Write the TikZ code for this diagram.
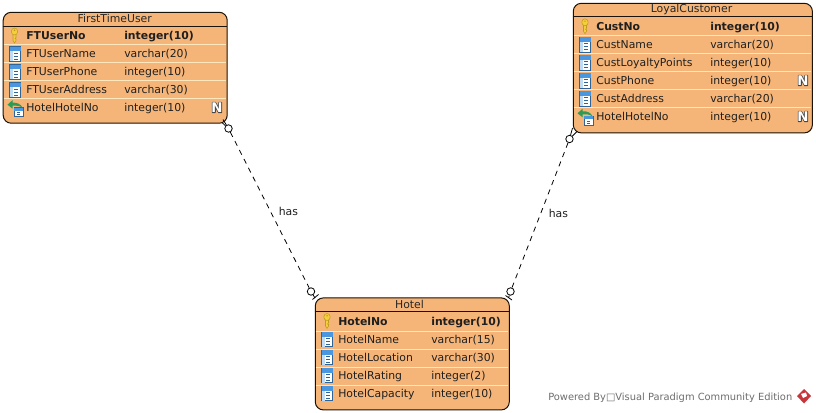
\documentclass[tikz,border=0pt]{standalone}
\usepackage{fontspec}
\setmainfont{DejaVu Sans}
\definecolor{erfill}{HTML}{F6B578}
\definecolor{ersep}{HTML}{FFE8BE}
\definecolor{erline}{HTML}{1A1208}
\definecolor{keyfill}{HTML}{F4CF3C}
\definecolor{keyedge}{HTML}{C09A20}
\definecolor{colblue}{HTML}{4A97E0}
\definecolor{coldark}{HTML}{2F6496}
\definecolor{fkgreen}{HTML}{2E9A56}
\definecolor{footgray}{HTML}{6E6E6E}
\definecolor{logored}{HTML}{C8353A}
\tikzset{
  x=0.75pt,y=-0.75pt,
  erbox/.style={draw=erline,fill=erfill,line width=0.75pt,rounded corners=6pt,anchor=north west,inner sep=0pt},
  ertext/.style={anchor=base west,inner sep=0pt,font=\fontsize{8.15pt}{10pt}\selectfont,text=black!88},
  ertitle/.style={anchor=base,inner sep=0pt,font=\fontsize{8.15pt}{10pt}\selectfont,text=black!85},
  erbold/.style={ertext,font=\fontsize{8.15pt}{10pt}\selectfont\bfseries},
  sepline/.style={draw=ersep,line width=0.75pt},
  headline/.style={draw=erline,line width=0.75pt},
  endcircle/.style={circle,draw=black,fill=white,line width=0.6pt,minimum size=5.6pt,inner sep=0pt},
  relline/.style={draw=black,line width=0.6pt,dash pattern=on 3.9pt off 3.6pt},
  endmark/.style={draw=black,line width=0.6pt},
  rellabel/.style={inner sep=0pt,anchor=base west,font=\fontsize{8.15pt}{10pt}\selectfont,text=black!88},
  keyicon/.pic={
    \draw[draw=keyedge,fill=keyfill,line width=0.4pt] (-1.5,-2) -- (-1.5,5) -- (0,7.5) -- (1.5,5) -- (1.5,3.5) -- (0.5,3) -- (1.5,2) -- (1.5,-2) -- cycle;
    \draw[draw=keyedge,fill=keyfill,line width=0.4pt] (0,-4) circle[x radius=3.2,y radius=3.5];
    \fill[keyedge] (0,-5.2) circle[radius=0.8];
  },
  colicon/.pic={
    \draw[draw=coldark,fill=white,line width=0.35pt] (-5.5,-7) rectangle (5.5,7.5);
    \fill[colblue] (-5.5,-7) rectangle (5.5,-2.5);
    \fill[colblue!35] (-5.5,-2.5) rectangle (-2.5,7.5);
    \foreach \yy in {-0.5,2.5,5.5}{\fill[coldark] (-1,\yy-0.6) rectangle (3,\yy+0.6);}
  },
  fkicon/.pic={
    \draw[draw=coldark,fill=white,line width=0.35pt] (-1,0) rectangle (8,9);
    \fill[colblue] (-1,0) rectangle (8,3);
    \fill[coldark] (2,4.5) rectangle (5,5.5); \fill[coldark] (2,6.5) rectangle (5,7.5);
    \fill[fkgreen] (-7.5,-3) -- (-2.5,-7.5) -- (-2.5,-5) .. controls (2,-5.5) and (6,-3.5) .. (7.5,0) .. controls (4,-2) and (1,-2.5) .. (-2.5,-2) -- (-2.5,1) -- cycle;
  },
  nullicon/.pic={
    \draw[draw=black!72,fill=black!72,line width=1.2pt,line join=round] (-4.4,4.9) -- (-4.4,-4.9) -- (-1.8,-4.9) -- (2,1.5) -- (2,-4.9) -- (4.4,-4.9) -- (4.4,4.9) -- (1.8,4.9) -- (-2,-1.5) -- (-2,4.9) -- cycle;
    \node[inner sep=0pt,text=white,font=\fontsize{10pt}{11pt}\selectfont\bfseries] (-nmark) at (0,0) {N};
  },
}
\newcommand{\erow}[8]{% id, icon, icon x, name x, type x, baseline, style, name
  \pic at ({#3},{#6-4}) {#2};
  \node[#7] (#1n) at ({#4},{#6}) {#8};
}
\newcommand{\etype}[5]{\node[#4] (#1t) at ({#2},{#3}) {#5};}
\begin{document}
\begin{tikzpicture}
\useasboundingbox (0,0) rectangle (816,413);
\fill[white] (0,0) rectangle (816,413);

% FirstTimeUser
\node[erbox,minimum width=168pt,minimum height=83.2pt] (ftu) at (2.7,11.8) {};
\draw[headline] (2.7,26.5) -- (226.7,26.5);
\foreach \yy in {45,63,81,99}{\draw[sepline] (3.6,\yy) -- (225.8,\yy);}
\node[ertitle] (ftutitle) at (114.7,22.5) {FirstTimeUser};
\erow{fa}{keyicon}{14.5}{26}{124}{39.5}{erbold}{FTUserNo}\etype{fa}{124}{39.5}{erbold}{integer(10)}
\erow{fb}{colicon}{15}{26}{124}{57.7}{ertext}{FTUserName}\etype{fb}{124}{57.7}{ertext}{varchar(20)}
\erow{fc}{colicon}{15}{26}{124}{75.7}{ertext}{FTUserPhone}\etype{fc}{124}{75.7}{ertext}{integer(10)}
\erow{fd}{colicon}{15}{26}{124}{93.7}{ertext}{FTUserAddress}\etype{fd}{124}{93.7}{ertext}{varchar(30)}
\erow{fe}{fkicon}{15}{26}{124}{111.7}{ertext}{HotelHotelNo}\etype{fe}{124}{111.7}{ertext}{integer(10)}
\pic (fenull) at (217,107.5) {nullicon};

% LoyalCustomer
\node[erbox,minimum width=179.3pt,minimum height=97.2pt] (lc) at (572.8,2.8) {};
\draw[headline] (572.8,17) -- (811.9,17);
\foreach \yy in {36,54,72,90,108}{\draw[sepline] (573.7,\yy) -- (811,\yy);}
\node[ertitle] (lctitle) at (691.5,13) {LoyalCustomer};
\erow{la}{keyicon}{585}{596}{710}{30.3}{erbold}{CustNo}\etype{la}{710}{30.3}{erbold}{integer(10)}
\erow{lb}{colicon}{585}{596}{710}{48.3}{ertext}{CustName}\etype{lb}{710}{48.3}{ertext}{varchar(20)}
\erow{lc1}{colicon}{585}{596}{710}{66.3}{ertext}{CustLoyaltyPoints}\etype{lc1}{710}{66.3}{ertext}{integer(10)}
\erow{ld}{colicon}{585}{596}{710}{84.3}{ertext}{CustPhone}\etype{ld}{710}{84.3}{ertext}{integer(10)}
\erow{le}{colicon}{585}{596}{710}{102.3}{ertext}{CustAddress}\etype{le}{710}{102.3}{ertext}{varchar(20)}
\erow{lf}{fkicon}{585}{596}{710}{120.3}{ertext}{HotelHotelNo}\etype{lf}{710}{120.3}{ertext}{integer(10)}
\pic (ldnull) at (803,80.5) {nullicon};
\pic (lfnull) at (803,116.5) {nullicon};

% Hotel
\node[erbox,minimum width=145.5pt,minimum height=84pt] (hotel) at (314.8,297.4) {};
\draw[headline] (314.8,311.5) -- (508.8,311.5);
\foreach \yy in {331,349,367,385}{\draw[sepline] (315.7,\yy) -- (507.9,\yy);}
\node[ertitle] (hoteltitle) at (409.5,308) {Hotel};
\erow{ha}{keyicon}{327}{338}{431}{325}{erbold}{HotelNo}\etype{ha}{431}{325}{erbold}{integer(10)}
\erow{hb}{colicon}{327}{338}{431}{343}{ertext}{HotelName}\etype{hb}{431}{343}{ertext}{varchar(15)}
\erow{hc}{colicon}{327}{338}{431}{361}{ertext}{HotelLocation}\etype{hc}{431}{361}{ertext}{varchar(30)}
\erow{hd}{colicon}{327}{338}{431}{379}{ertext}{HotelRating}\etype{hd}{431}{379}{ertext}{integer(2)}
\erow{he}{colicon}{327}{338}{431}{397}{ertext}{HotelCapacity}\etype{he}{431}{397}{ertext}{integer(10)}

% Relationship ends
\node[endcircle] (c1) at (228.5,128.5) {};
\node[endcircle] (c2) at (311,291.5) {};
\node[endcircle] (c3) at (569.5,139) {};
\node[endcircle] (c4) at (510.5,291.5) {};

% Relationships
\draw[relline] (c1) -- (c2);
\draw[relline] (c3) -- (c4);
\node[rellabel] (has1) at (278.5,215) {has};
\node[rellabel] (has2) at (548.5,218) {has};

% End marks
\draw[endmark] (c1) -- (223,119.5);
\draw[endmark] (c1) -- (222.5,123);
\draw[endmark] (c3) -- (572.5,128);
\draw[endmark] (c3) -- (577,131.5);
\draw[endmark] (c2) -- (315,298);
\draw[endmark] (312.5,299.5) -- (318.5,294.5);
\draw[endmark] (c4) -- (508.5,298);
\draw[endmark] (505.5,295.5) -- (512,300);

% Footer
\node[anchor=base west,inner sep=0pt,text=footgray,font=\fontsize{7.41pt}{9pt}\selectfont] (footer) at (548,400.5) {Powered By□Visual Paradigm Community Edition};
\fill[logored] (804,389) -- (811,396) -- (804,403.5) -- (797,396) -- cycle;
\fill[white] (801,394) -- (806,392.5) -- (807,396) -- (803,398) -- cycle;
\end{tikzpicture}
\end{document}
